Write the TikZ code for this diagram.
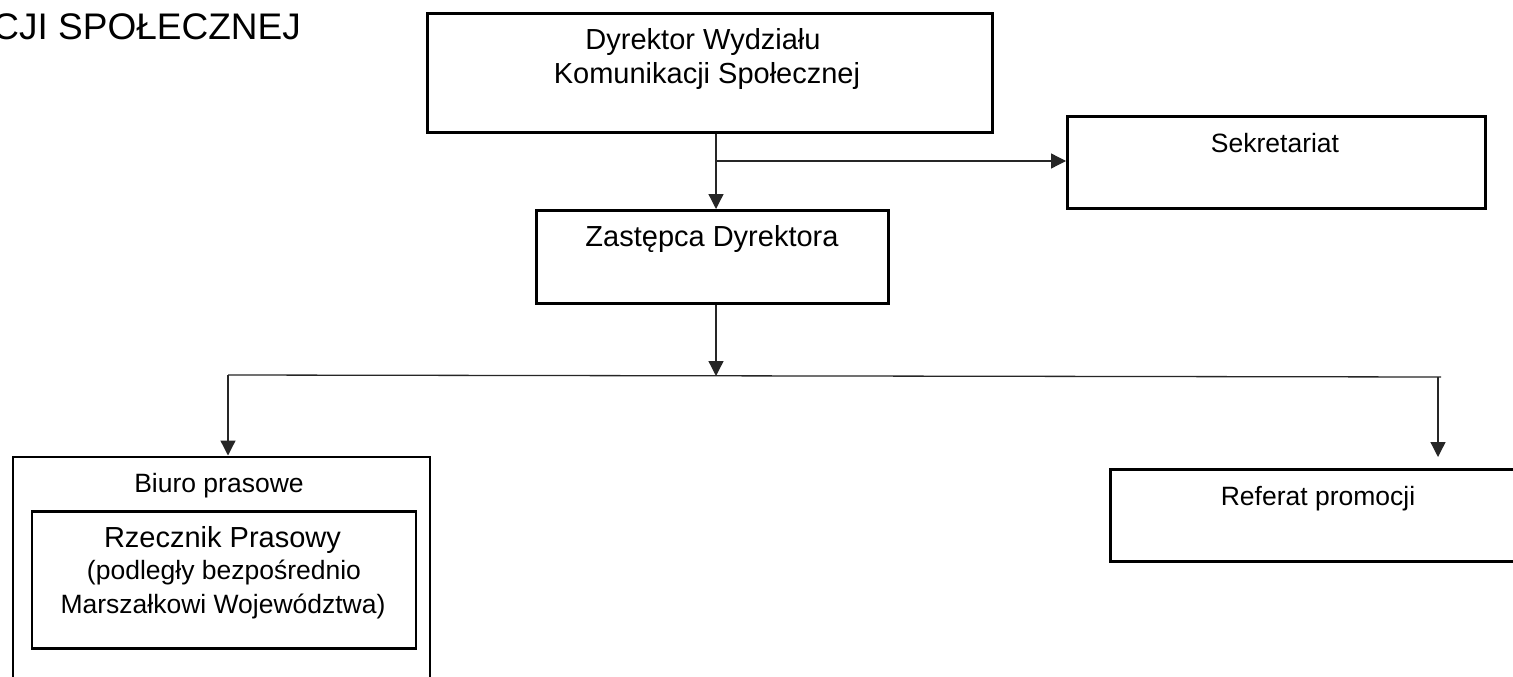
\documentclass[tikz,border=0pt]{standalone}
\usepackage{fontspec}
\setmainfont{Liberation Sans}
\usetikzlibrary{arrows.meta}
\begin{document}
\begin{tikzpicture}[x=1pt,y=-1pt,
  box/.style={draw=black, line width=2.6pt, rectangle, inner sep=0pt, anchor=north west},
  conn/.style={draw=black!85, line width=1.3pt},
  arr/.style={conn, -{Triangle[width=15pt,length=15pt]}},
  big/.style={font=\fontsize{29}{34}\selectfont, inner sep=0pt, anchor=base},
  mid/.style={font=\fontsize{26.5}{31}\selectfont, inner sep=0pt, anchor=base},
  head/.style={font=\fontsize{37}{44}\selectfont, inner sep=0pt, anchor=base east}]
\useasboundingbox (0,0) rectangle (1513,677);
\clip (0,0) rectangle (1513,677);
\fill[white] (0,0) rectangle (1513,677);

% heading (cut off at the left)
\node[head] (title) at (301,39.5) {CJI SPOŁECZNEJ};

% boxes
\node[box, minimum width=565pt, minimum height=119pt] (dyr) at (426,12) {};
\node[box, minimum width=418pt, minimum height=92pt] (sek) at (1066,115) {};
\node[box, minimum width=352pt, minimum height=93pt] (zas) at (535,209) {};
\node[box, minimum width=417pt, minimum height=240pt] (biuro) at (11.5,455.5) {};
\node[box, minimum width=384pt, minimum height=137pt] (rzecz) at (30.5,510) {};
\node[box, minimum width=420pt, minimum height=92pt] (ref) at (1109,468) {};

% texts
\node[big] (t1) at (703,50) {Dyrektor Wydziału};
\node[big] (t2) at (707,83.3) {Komunikacji Społecznej};
\node[mid] (t3) at (1275,152) {Sekretariat};
\node[big] (t4) at (712,246.7) {Zastępca Dyrektora};
\node[mid] (t5) at (219,492.3) {Biuro prasowe};
\node[big] (t6) at (222.5,547.3) {Rzecznik Prasowy};
\node[mid] (t7) at (224,579.5) {(podległy bezpośrednio};
\node[mid] (t8) at (223,613.3) {Marszałkowi Województwa)};
\node[mid] (t9) at (1318,505.7) {Referat promocji};

% connectors
\coordinate (d0) at (dyr.south -| 716,0);
\coordinate (br) at (716,161);
\coordinate (hl) at (228,375);
\coordinate (hr) at (1441,377);
\coordinate (hm) at (716,376);
\coordinate (rt) at (1438,457);
\draw[arr] (d0) -- (zas.north -| d0);
\draw[arr] (br) -- (sek.west |- br);
\draw[arr] (zas.south -| d0) -- (hm);
\draw[conn] (hl) -- (hr);
\draw[arr] (hl) -- (biuro.north -| hl);
\draw[arr] (1438,377) -- (rt);
\end{tikzpicture}
\end{document}
